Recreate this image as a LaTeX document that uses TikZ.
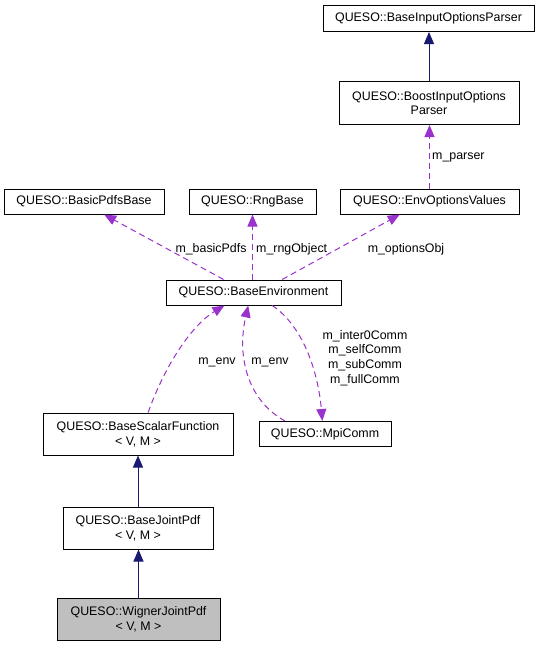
\documentclass[tikz,border=0pt]{standalone}
\usepackage{fontspec}
\setmainfont{Liberation Sans}
\usetikzlibrary{arrows.meta,calc}
\definecolor{navyc}{RGB}{25,25,112}
\definecolor{purp}{RGB}{154,50,205}
\definecolor{grayfill}{RGB}{191,191,191}
\begin{document}
\begin{tikzpicture}[x=1pt,y=-1pt,
  box/.style={draw=black, fill=white, line width=1pt, inner sep=0pt, align=center, font=\fontsize{12.4}{14.8}\selectfont},
  inh/.style={draw=navyc, line width=0.9pt, -{Triangle[length=12pt,width=10pt]}},
  use/.style={draw=purp, line width=1pt, dash pattern=on 6pt off 4pt, -{Triangle[length=12pt,width=10pt]}},
  lbl/.style={font=\fontsize{12.4}{14.8}\selectfont, inner sep=0pt, align=center}]
\useasboundingbox (0,0) rectangle (541,648);
% nodes
\node[box,minimum width=211pt,minimum height=26pt] (biop) at (428.5,18.5) {QUESO::BaseInputOptionsParser};
\node[box,minimum width=180pt,minimum height=43pt] (boost) at (429,103) {QUESO::BoostInputOptions\\Parser};
\node[box,minimum width=179pt,minimum height=25pt] (env) at (429.5,201.5) {QUESO::EnvOptionsValues};
\node[box,minimum width=160pt,minimum height=25pt] (bpb) at (84,201.5) {QUESO::BasicPdfsBase};
\node[box,minimum width=127pt,minimum height=25pt] (rng) at (252.5,201.5) {QUESO::RngBase};
\node[box,minimum width=175pt,minimum height=25pt] (be) at (253.5,292.5) {QUESO::BaseEnvironment};
\node[box,minimum width=190pt,minimum height=42pt] (bsf) at (138,434) {QUESO::BaseScalarFunction\\< V, M >};
\node[box,minimum width=132pt,minimum height=25pt] (mpi) at (325,434) {QUESO::MpiComm};
\node[box,minimum width=150pt,minimum height=42pt] (bjp) at (138,528) {QUESO::BaseJointPdf\\< V, M >};
\node[box,fill=grayfill,minimum width=163pt,minimum height=42pt] (wjp) at (138.5,619) {QUESO::WignerJointPdf\\< V, M >};
% inheritance
\draw[inh] (boost.north) -- (boost.north |- biop.south);
\draw[inh] (bjp.north) -- (bjp.north |- bsf.south);
\draw[inh] (wjp.north) -- (wjp.north |- bjp.south);
% usage
\draw[use] (env.north) -- (env.north |- boost.south);
\node[lbl,anchor=west] (lparser) at (432,157) {m\_parser};
\draw[use] ($(be.north west)!0.33!(be.north east)$) -- ($(bpb.south west)!0.625!(bpb.south east)$);
\draw[use] (be.north -| rng.south) -- (rng.south);
\draw[use] ($(be.north west)!0.663!(be.north east)$) -- ($(env.south west)!0.335!(env.south east)$);
\node[lbl] (lbasic) at (211,249) {m\_basicPdfs};
\node[lbl,anchor=west] (lrng) at (256,249) {m\_rngObject};
\node[lbl] (lopt) at (406,249) {m\_optionsObj};
% curved
\draw[use] ($(bsf.north west)!0.553!(bsf.north east)$) .. controls (165,365) and (192,325) .. ($(be.south west)!0.335!(be.south east)$);
\node[lbl] (lenv1) at (217,362) {m\_env};
\draw[use] ($(mpi.north west)!0.2!(mpi.north east)$) .. controls (250,402) and (236,360) .. ($(be.south west)!0.47!(be.south east)$);
\node[lbl] (lenv2) at (270,362) {m\_env};
\draw[use] ($(be.south west)!0.606!(be.south east)$) .. controls (302,325) and (318,370) .. ($(mpi.north west)!0.48!(mpi.north east)$);
\node[lbl] (lcomm) at (365,358) {m\_inter0Comm\\m\_selfComm\\m\_subComm\\m\_fullComm};
\end{tikzpicture}
\end{document}
